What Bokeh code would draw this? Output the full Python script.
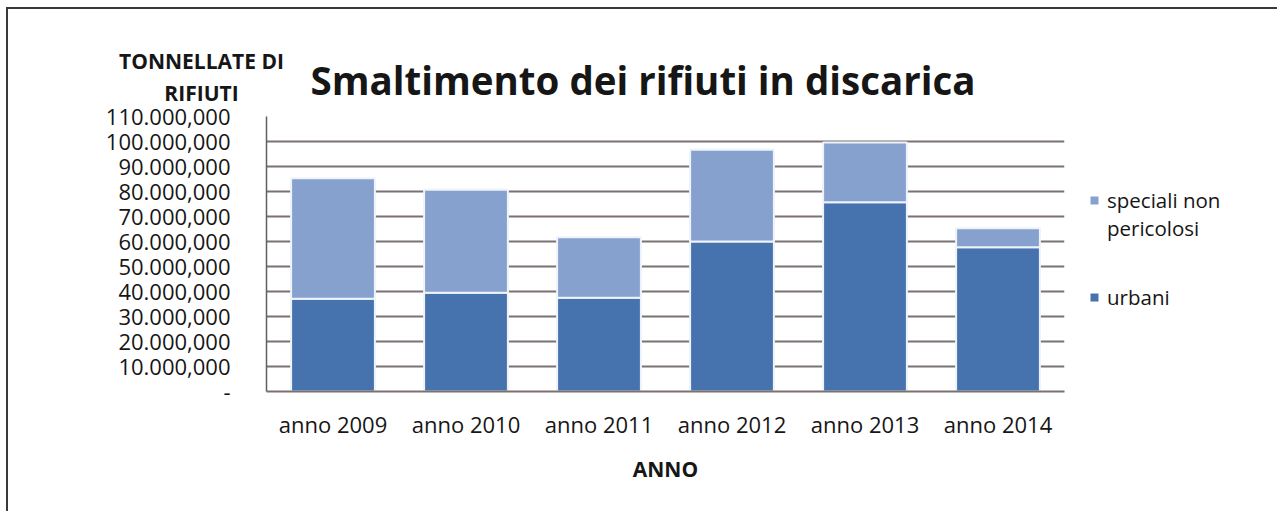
from bokeh.plotting import figure
from bokeh.models import FactorRange, Range1d, FixedTicker, Label, Legend, LegendItem, ColumnDataSource
from bokeh.embed import file_html
from bokeh.resources import INLINE

# ---- data ----
years = ["anno 2009", "anno 2010", "anno 2011", "anno 2012", "anno 2013", "anno 2014"]
urbani = [37_100_000, 39_500_000, 37_500_000, 60_000_000, 75_700_000, 57_700_000]
speciali = [48_200_000, 41_200_000, 24_200_000, 36_700_000, 23_900_000, 7_600_000]
series_labels = ["urbani", "speciali non\npericolosi"]
y_ticks = [0, 10_000_000, 20_000_000, 30_000_000, 40_000_000, 50_000_000,
           60_000_000, 70_000_000, 80_000_000, 90_000_000, 100_000_000, 110_000_000]
y_tick_labels = ["-", "10.000,000", "20.000,000", "30.000,000", "40.000,000", "50.000,000",
                 "60.000,000", "70.000,000", "80.000,000", "90.000,000", "100.000,000", "110.000,000"]
title_text = "Smaltimento dei rifiuti in discarica"
y_title_lines = ["TONNELLATE DI", "RIFIUTI"]
x_title = "ANNO"

FONT = "Open Sans"
TXT = "#161616"
GRID = "#7a7272"
colors = ["#4672ad", "#87a1cf"]
W, H = 1279, 513

src = ColumnDataSource(dict(anno=years, urbani=urbani, speciali=speciali))

# ---------------- main chart ----------------
p = figure(
    x_range=FactorRange(*years, range_padding=0),
    y_range=Range1d(0, 110_000_000),
    width=1271, height=504,
    output_backend="svg", toolbar_location=None,
    min_border_left=258, min_border_right=215,
    min_border_top=107, min_border_bottom=122,
    styles={"margin-left": "6px", "margin-top": "7px",
            "border-left": "2px solid #3a3a3a", "border-top": "2px solid #3a3a3a"},
)
p.outline_line_color = None
p.background_fill_color = "white"
p.border_fill_color = "white"

rs = p.vbar_stack(["urbani", "speciali"], x="anno", width=0.63, source=src,
                  fill_color=colors, line_color="#eef3fa", line_width=2)

p.title.text = title_text
p.title.text_font = FONT
p.title.text_font_style = "bold"
p.title.text_font_size = "38.5px"
p.title.text_color = TXT
p.title.align = "left"
p.title.offset = 44
p.title.standoff = 22

p.xgrid.grid_line_color = None
p.ygrid.grid_line_color = GRID
p.ygrid.grid_line_width = 2

p.yaxis.ticker = FixedTicker(ticks=y_ticks)
p.yaxis.major_label_overrides = dict(zip(y_ticks, y_tick_labels))
p.yaxis.major_label_text_font = FONT
p.yaxis.major_label_text_font_size = "22px"
p.yaxis.major_label_text_color = TXT
p.yaxis.major_label_standoff = 30
p.yaxis.major_tick_line_color = None
p.yaxis.minor_tick_line_color = None
p.yaxis.axis_line_color = "#5f5f5f"
p.yaxis.axis_line_width = 1.5

p.xaxis.axis_label = x_title
p.xaxis.axis_label_text_font = FONT
p.xaxis.axis_label_text_font_style = "bold"
p.xaxis.axis_label_text_font_size = "21px"
p.xaxis.axis_label_text_color = TXT
p.xaxis.axis_label_standoff = 13
p.xaxis.major_label_text_font = FONT
p.xaxis.major_label_text_font_size = "22px"
p.xaxis.major_label_text_color = TXT
p.xaxis.major_label_standoff = 11
p.xaxis.major_tick_line_color = None
p.xaxis.axis_line_color = GRID
p.xaxis.axis_line_width = 2

# ---------------- transparent overlay for texts outside the plot frame ----------------
ov = figure(width=W, height=H, x_range=Range1d(0, W), y_range=Range1d(0, H),
            output_backend="svg", toolbar_location=None,
            x_axis_location=None, y_axis_location=None,
            min_border_left=0, min_border_right=0, min_border_top=0, min_border_bottom=0,
            styles={"position": "absolute", "left": "0px", "top": "0px"})
ov.grid.visible = False
ov.outline_line_color = None
ov.background_fill_color = None
ov.border_fill_color = None

# y-axis title, two lines
for i, line in enumerate(y_title_lines):
    ov.add_layout(Label(x=201, y=H - 60 - 32 * i, x_units="screen", y_units="screen",
                        text=line, text_align="center", text_baseline="middle",
                        text_font=FONT, text_font_style="bold", text_font_size="21px",
                        text_color=TXT))

# legend: proxy renderers carry only the series colours (NaN => nothing drawn)
nan = float("nan")
proxy_sp = ov.scatter(x=[nan], y=[nan], marker="square", size=8,
                      fill_color=colors[1], line_color=None)
proxy_ur = ov.scatter(x=[nan], y=[nan], marker="square", size=8,
                      fill_color=colors[0], line_color=None)
proxy_blank = ov.scatter(x=[nan], y=[nan], marker="square", size=8,
                         fill_alpha=0, line_color=None)

legend_style = dict(
    glyph_width=20, glyph_height=20, label_standoff=3, spacing=0,
    padding=0, margin=0, border_line_color=None, background_fill_alpha=0,
    label_text_font=FONT, label_text_font_size="20.5px", label_text_color=TXT,
)
sp_lines = series_labels[1].split("\n")
legend_sp = Legend(
    items=[LegendItem(label=sp_lines[0], renderers=[proxy_sp]),
           LegendItem(label=sp_lines[1], renderers=[proxy_blank])],
    location=(1084, H - 242), **legend_style)
legend_ur = Legend(
    items=[LegendItem(label=series_labels[0], renderers=[proxy_ur])],
    location=(1084, H - 311), **legend_style)
ov.add_layout(legend_sp)
ov.add_layout(legend_ur)

open("out.html", "w").write(file_html([p, ov], INLINE))
